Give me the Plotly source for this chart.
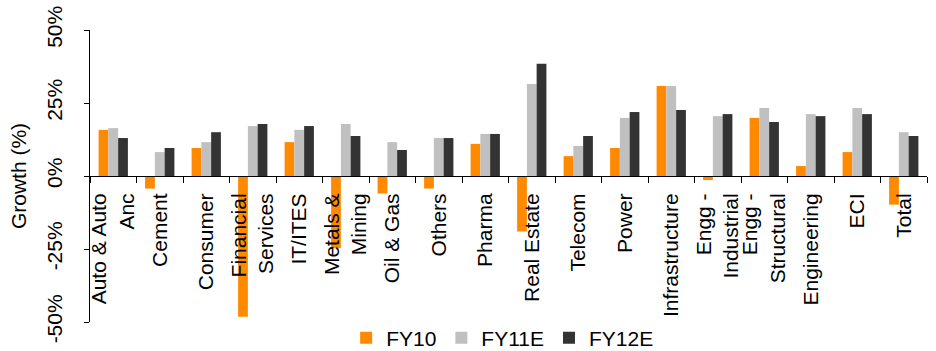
import plotly.graph_objects as go

# Sector growth estimates (%)
sectors = [
    "Auto & Auto<br>Anc", "Cement", "Consumer", "Financial<br>Services", "IT/ITES",
    "Metals &<br>Mining", "Oil & Gas", "Others", "Pharma", "Real Estate", "Telecom",
    "Power", "Infrastructure", "Engg -<br>Industrial", "Engg -<br>Structural",
    "Engineering", "ECI", "Total",
]
fy10 = [15.8, -4.3, 9.6, -48.2, 11.6, -24.7, -6.0, -4.3, 11.0, -19.0, 6.8,
        9.6, 30.8, -1.4, 19.9, 3.4, 8.2, -9.8]
fy11e = [16.4, 8.2, 11.6, 17.1, 15.8, 17.8, 11.6, 13.0, 14.4, 31.5, 10.3,
         19.9, 30.8, 20.5, 23.3, 21.2, 23.3, 15.0]
fy12e = [13.0, 9.6, 15.0, 17.8, 17.1, 13.7, 8.9, 13.0, 14.4, 38.4, 13.7,
         21.9, 22.6, 21.2, 18.5, 20.5, 21.2, 13.7]

y_ticks = [-50, -25, 0, 25, 50]
y_tick_text = ["-50%", "-25%", "0%", "25%", "50%"]

series = [("FY10", fy10, "#FF8A00"), ("FY11E", fy11e, "#C0C0C0"), ("FY12E", fy12e, "#333333")]

FONT = "Liberation Sans, Arial, sans-serif"

fig = go.Figure()
for name, vals, color in series:
    fig.add_trace(go.Bar(x=sectors, y=vals, name=name, marker_color=color,
                         marker_line_width=0))

fig.update_layout(
    width=936, height=351,
    margin=dict(l=90, r=9, t=30, b=29, autoexpand=False),
    paper_bgcolor="white", plot_bgcolor="white",
    barmode="group", bargap=0.37, bargroupgap=0,
    font=dict(family=FONT, size=21, color="black"),
    showlegend=True,
    legend=dict(orientation="h", x=0.493, xanchor="center", y=-0.055, yanchor="middle",
                font=dict(size=21), bgcolor="rgba(0,0,0,0)", traceorder="normal"),
)

fig.update_xaxes(
    anchor="free", position=0.5, side="bottom",
    showline=True, linecolor="black", linewidth=1,
    ticks="outside", ticklen=6, tickcolor="black", tickson="boundaries",
    tickangle=-90, tickfont=dict(size=21), ticklabelstandoff=8,
    showgrid=False, zeroline=False,
)

fig.update_yaxes(
    range=[-50, 50], tickvals=y_ticks, ticktext=y_tick_text,
    showline=True, linecolor="black", linewidth=1,
    ticks="outside", ticklen=5, tickcolor="black",
    tickangle=-90, tickfont=dict(size=21), ticklabelstandoff=14,
    showgrid=False, zeroline=False,
    title=dict(text="Growth (%)", font=dict(size=21), standoff=10),
)

fig.write_html("out.html")
